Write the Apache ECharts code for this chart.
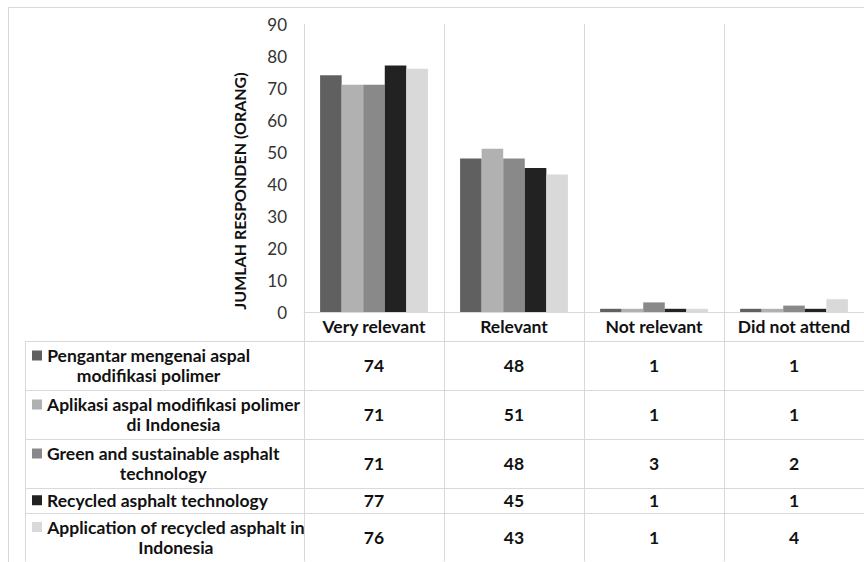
<!DOCTYPE html>
<html>
<head>
<meta charset="utf-8">
<script src="https://cdn.jsdelivr.net/npm/echarts@6/dist/echarts.min.js"></script>
<style>
  html, body { margin: 0; padding: 0; background: #ffffff; }
  #chart { width: 864px; height: 562px; }
</style>
</head>
<body>
<div id="chart"></div>
<script>
// Response categories along the x axis
const categories = ['Very relevant', 'Relevant', 'Not relevant', 'Did not attend'];

// Session titles (line breaks as shown in the data table)
const sessionNames = [
  'Pengantar mengenai aspal\nmodifikasi polimer',
  'Aplikasi aspal modifikasi polimer\ndi Indonesia',
  'Green and sustainable asphalt\ntechnology',
  'Recycled asphalt technology',
  'Application of recycled asphalt in\nIndonesia'
];

// Number of respondents per category, one array per session
const pengantarValues   = [74, 48, 1, 1];
const aplikasiValues    = [71, 51, 1, 1];
const greenValues       = [71, 48, 3, 2];
const recycledValues    = [77, 45, 1, 1];
const applicationValues = [76, 43, 1, 4];

// Value axis ticks
const yTicks = [0, 10, 20, 30, 40, 50, 60, 70, 80, 90];

const axisTitle = 'JUMLAH RESPONDEN (ORANG)';
const sessionColors = ['#606060', '#b1b1b1', '#898989', '#222222', '#d9d9d9'];

const sessionValues = [pengantarValues, aplikasiValues, greenValues, recycledValues, applicationValues];

const FONT = 'Lato, "Open Sans", sans-serif';
const GRID_LINE = '#d9d9d9';

const chart = echarts.init(document.getElementById('chart'), null, { renderer: 'svg' });

chart.setOption({
  animation: false,
  backgroundColor: '#ffffff',
  grid: { left: 304, top: 24, width: 564, height: 288, containLabel: false },
  xAxis: {
    type: 'category',
    data: categories,
    axisLine: { show: true, lineStyle: { color: GRID_LINE, width: 1 } },
    axisTick: { show: false },
    splitLine: { show: false },
    axisLabel: {
      interval: 0,
      hideOverlap: false,
      margin: 6,
      color: '#111111',
      fontFamily: FONT,
      fontWeight: 'bold',
      fontSize: 17.5,
      lineHeight: 17
    }
  },
  yAxis: {
    type: 'value',
    min: yTicks[0],
    max: yTicks[yTicks.length - 1],
    interval: yTicks[1] - yTicks[0],
    axisLine: { show: false },
    axisTick: { show: false },
    splitLine: { show: false },
    axisLabel: {
      margin: 17,
      color: '#333333',
      fontFamily: FONT,
      fontSize: 17
    }
  },
  series: sessionValues.map((vals, i) => ({
    type: 'bar',
    name: sessionNames[i].replace('\n', ' '),
    data: vals,
    barGap: 0,
    barCategoryGap: '23%',
    silent: true,
    itemStyle: { color: sessionColors[i] }
  }))
});

// Data table below the plot plus the axis title and frame
function buildOverlay() {
  const measureCtx = document.createElement('canvas').getContext('2d');
  const tableFont = 'bold 17.5px ' + FONT;
  measureCtx.font = tableFont;

  const c0 = chart.convertToPixel({ xAxisIndex: 0 }, 0);
  const c1 = chart.convertToPixel({ xAxisIndex: 0 }, 1);
  const band = c1 - c0;
  const plotLeft = c0 - band / 2;
  const zeroY = chart.convertToPixel({ yAxisIndex: 0 }, yTicks[0]);
  const topY = chart.convertToPixel({ yAxisIndex: 0 }, yTicks[yTicks.length - 1]);

  const tableLeft = 25;
  const tableTop = zeroY + 29;
  const lineH = 20;
  const rowUnit = 24.5;
  const tableRight = plotLeft + band * categories.length;

  const els = [];
  const line = (x1, y1, x2, y2) => els.push({
    type: 'line', silent: true,
    shape: { x1, y1, x2, y2 },
    style: { stroke: GRID_LINE, lineWidth: 1 }
  });

  // row layout
  const rows = [];
  let y = tableTop;
  sessionNames.forEach((name) => {
    const lines = name.split('\n');
    const h = rowUnit * lines.length;
    rows.push({ lines, top: y, h });
    y += h;
  });
  const tableBottom = y;

  // horizontal rules
  line(tableLeft, Math.round(tableTop) + 0.5, tableRight, Math.round(tableTop) + 0.5);
  rows.forEach(r => {
    const yy = Math.round(r.top + r.h) + 0.5;
    line(tableLeft, yy, tableRight, yy);
  });
  // vertical rules
  line(tableLeft + 0.5, tableTop, tableLeft + 0.5, tableBottom);
  for (let k = 0; k <= categories.length; k++) {
    const xx = Math.round(plotLeft + k * band) + 0.5;
    line(xx, topY, xx, tableBottom);
  }

  // legend keys and session titles
  const textX = 47;
  rows.forEach((r, i) => {
    const widths = r.lines.map(t => measureCtx.measureText(t).width);
    const blockW = Math.max(...widths);
    const cy = r.top + r.h / 2;
    const firstY = cy - (r.lines.length - 1) * lineH / 2;
    els.push({
      type: 'rect', silent: true,
      shape: { x: 32, y: firstY - 5, width: 10, height: 10 },
      style: { fill: sessionColors[i] }
    });
    r.lines.forEach((t, j) => {
      els.push({
        type: 'text', silent: true,
        x: textX + blockW / 2, y: firstY + j * lineH,
        style: {
          text: t, font: tableFont, fill: '#111111',
          align: 'center', verticalAlign: 'middle'
        }
      });
    });
    // values per category
    sessionValues[i].forEach((v, k) => {
      els.push({
        type: 'text', silent: true,
        x: chart.convertToPixel({ xAxisIndex: 0 }, k), y: cy,
        style: {
          text: String(v), font: tableFont, fill: '#111111',
          align: 'center', verticalAlign: 'middle'
        }
      });
    });
  });

  // rotated value-axis title
  els.push({
    type: 'text', silent: true,
    x: 239, y: 191, rotation: Math.PI / 2,
    style: {
      text: axisTitle, font: 'bold 16px ' + FONT, fill: '#111111',
      align: 'center', verticalAlign: 'middle'
    }
  });

  // chart frame
  els.push({
    type: 'rect', silent: true,
    shape: { x: 8.5, y: 7.5, width: 1000, height: 700 },
    style: { fill: 'none', stroke: GRID_LINE, lineWidth: 1 }
  });

  chart.setOption({ graphic: { elements: els } });
}

buildOverlay();
</script>
</body>
</html>
